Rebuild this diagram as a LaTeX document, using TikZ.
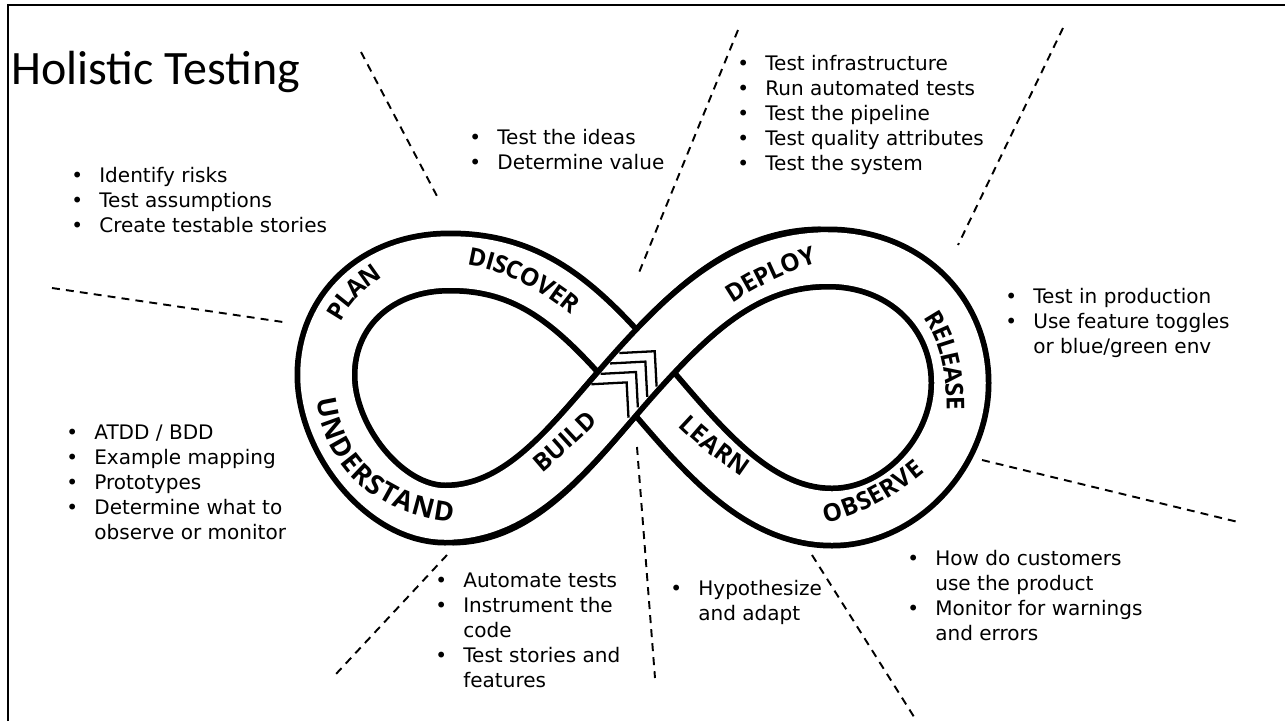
\documentclass[tikz,border=0pt]{standalone}
\usepackage{fontspec}
\usepackage{tikz}
\usetikzlibrary{decorations.text}
\setmainfont{DejaVu Sans}
\newfontfamily\titlefont{Carlito}
\newfontfamily\handfont{Open Sans}
\newcommand{\bandfont}{\handfont\bfseries\fontsize{14}{14}\selectfont}
\newcommand{\bigband}{\handfont\bfseries\fontsize{15.5}{16}\selectfont}
\newcommand{\bl}{\makebox[0.56cm][l]{\textbullet}}
\newcommand{\nb}{\hspace*{0.56cm}}

\tikzset{
  sep/.style={dash pattern=on 4.5pt off 3.5pt, line width=1.1pt},
  lst/.style={anchor=north west, inner sep=0pt, align=left, font=\fontsize{11.4}{14.2}\selectfont},
  bandout/.style={line width=1.26cm, black},
  bandin/.style={line width=1.03cm, white},
  chev/.style={line width=1.3pt, line join=miter},
  word/.style={decorate, decoration={text along path, text align=center, raise=-5pt, text={#1}}},
}

\begin{document}
\begin{tikzpicture}[x=0.02cm, y=-0.02cm]
			\fill[white] (0,0) rectangle (1285,721);
			\useasboundingbox (0,0) rectangle (1285,721);
			
			% 边框（左、上）
			\draw[line width=1.7pt] (8,721) -- (8,5) -- (1285,5);
			
			% 标题
			\node[anchor=base west, inner sep=0pt, font=\titlefont\fontsize{27.3}{30}\selectfont] (title) at (11,84) {Holistic Testing};
			
			% 无穷环（交叉点 C）
			\coordinate (C) at (636,372);
			\foreach \s in {bandout, bandin}
				\draw[\s] (C) .. controls (696,305) and (750,258) .. (828,258)
					.. controls (905,258) and (960,313) .. (960,383)
					.. controls (960,453) and (900,517) .. (832,517)
					.. controls (752,517) and (695,440) .. (C)
					.. controls (577,304) and (530,262) .. (450,262)
					.. controls (375,262) and (326,312) .. (326,375)
					.. controls (326,440) and (385,514) .. (445,514)
					.. controls (525,514) and (576,439) .. (C) -- cycle;
			
			% 上层带子：BUILD -> DEPLOY
			\draw[bandout, shorten <=4pt, shorten >=4pt] (445,514) .. controls (525,514) and (576,439) .. (C)
				.. controls (696,305) and (750,258) .. (828,258);
			\draw[bandin] (445,514) .. controls (525,514) and (576,439) .. (C)
				.. controls (696,305) and (750,258) .. (828,258);
			
			% 箭头（交叉处）
			\begin{scope}[shift={(C)}, rotate=48]
				\foreach \t in {-14,0,14,28}
					\draw[chev] (\t-25,-25) -- (\t,0) -- (\t-25,25);
			\end{scope}
			
			% 环上的文字
			\path[word={|\bandfont|PLAN}] (322,345) .. controls (335,300) and (365,272) .. (405,258);
			\path[word={|\bandfont|DISCOVER}] (450,255) .. controls (495,255) and (550,281) .. (590,321);
			\path[word={|\bigband|UNDERSTAND}] (324,376) .. controls (324,456) and (374,512) .. (476,515);
			\path[word={|\bandfont|BUILD}] (515,484) .. controls (540,464) and (575,434) .. (612,396);
			\path[word={|\bandfont|DEPLOY}] (708,310) .. controls (740,286) and (780,262) .. (838,248);
			\path[word={|\bandfont|RELEASE}] (910,292) .. controls (944,317) and (961,364) .. (954,440);
			\path[word={|\bandfont|LEARN}] (665,400) .. controls (690,428) and (722,455) .. (770,485);
			\path[word={|\bandfont|OBSERVE}] (795,518) .. controls (840,516) and (890,496) .. (940,446);
			
			% 分隔虚线
			\coordinate (a1) at (361,52);   \coordinate (a2) at (438,198);
			\coordinate (b1) at (738,30);   \coordinate (b2) at (638,275);
			\coordinate (c1) at (1063,28);  \coordinate (c2) at (958,245);
			\coordinate (d1) at (982,460);  \coordinate (d2) at (1238,522);
			\coordinate (e1) at (812,555);  \coordinate (e2) at (916,720);
			\coordinate (f1) at (637,447);  \coordinate (f2) at (655,678);
			\coordinate (g1) at (447,555);  \coordinate (g2) at (336,674);
			\coordinate (h1) at (52,288);   \coordinate (h2) at (283,322);
			\foreach \p in {a,b,c,d,e,f,g,h}
				\draw[sep] (\p1) -- (\p2);
			
			% 各阶段的要点
			\node[lst] (plan) at (71,167) {\bl Identify risks\\ \bl Test assumptions\\ \bl Create testable stories};
			\node[lst] (discover) at (469,129) {\bl Test the ideas\\ \bl Determine value};
			\node[lst] (deploy) at (737,55) {\bl Test infrastructure\\ \bl Run automated tests\\ \bl Test the pipeline\\ \bl Test quality attributes\\ \bl Test the system};
			\node[lst] (release) at (1005,288) {\bl Test in production\\ \bl Use feature toggles\\ \nb or blue/green env};
			\node[lst] (observe) at (907,550) {\bl How do customers\\ \nb use the product\\ \bl Monitor for warnings\\ \nb and errors};
			\node[lst] (learn) at (670,580) {\bl Hypothesize\\ \nb and adapt};
			\node[lst] (build) at (435,573) {\bl Automate tests\\ \bl Instrument the\\ \nb code\\ \bl Test stories and\\ \nb features};
			\node[lst] (understand) at (66,425) {\bl ATDD / BDD\\ \bl Example mapping\\ \bl Prototypes\\ \bl Determine what to\\ \nb observe or monitor};
		\end{tikzpicture}
\end{document}
